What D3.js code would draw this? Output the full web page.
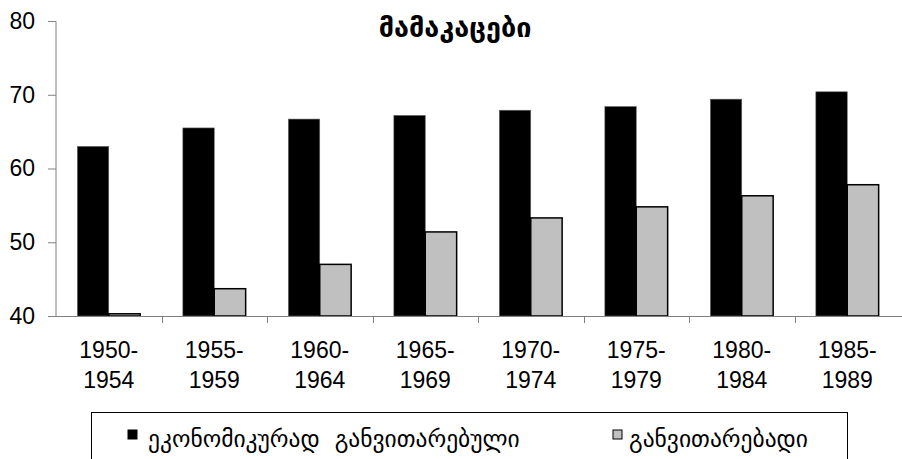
<!DOCTYPE html>
<html>
<head>
<meta charset="utf-8">
<script src="https://cdn.jsdelivr.net/npm/d3@7"></script>
<style>
  body { margin: 0; background: #fff; }
  svg { display: block; }
</style>
</head>
<body>
<div id="chart"></div>
<script>
var categories = ["1950-1954", "1955-1959", "1960-1964", "1965-1969", "1970-1974", "1975-1979", "1980-1984", "1985-1989"];
var developed = [63.0, 65.5, 66.7, 67.2, 67.9, 68.4, 69.4, 70.4];
var developing = [40.3, 43.7, 47.0, 51.4, 53.3, 54.8, 56.3, 57.8];
var seriesNames = ["ეკონომიკურად  განვითარებული", "განვითარებადი"];
var yTicks = [40, 50, 60, 70, 80];
var title = "მამაკაცები";

var width = 902, height = 459;
var georgian = "'DejaVu Sans', serif";

var svg = d3.select("#chart").append("svg")
    .attr("width", width)
    .attr("height", height);

var x0 = d3.scaleBand()
    .domain(categories)
    .range([56, 900]);

var x1 = d3.scaleBand()
    .domain([0, 1])
    .range([0, x0.bandwidth()])
    .paddingOuter(0.68);

var y = d3.scaleLinear()
    .domain([40, 80])
    .range([316, 21]);

var colors = ["#000000", "#c0c0c0"];

// title
svg.append("text")
    .attr("x", 455)
    .attr("y", 37)
    .attr("text-anchor", "middle")
    .style("font-family", georgian)
    .style("font-weight", "bold")
    .style("font-size", "27px")
    .text(title);

// bars
var rows = categories.map(function(c, i) {
  return { cat: c, values: [developed[i], developing[i]] };
});

var group = svg.selectAll("g.grp")
    .data(rows)
    .enter().append("g")
    .attr("class", "grp")
    .attr("transform", function(d) { return "translate(" + x0(d.cat) + ",0)"; });

group.selectAll("rect")
    .data(function(d) { return d.values.map(function(v, k) { return { k: k, v: v }; }); })
    .enter().append("rect")
    .attr("x", function(d) { return x1(d.k); })
    .attr("y", function(d) { return y(d.v); })
    .attr("width", x1.bandwidth())
    .attr("height", function(d) { return y(40) - y(d.v); })
    .attr("fill", function(d) { return colors[d.k]; })
    .attr("stroke", function(d) { return d.k === 0 ? "#666" : "#000"; })
    .attr("stroke-width", function(d) { return d.k === 0 ? 0.6 : 1.5; });

// y axis
var yAxis = svg.append("g")
    .attr("transform", "translate(56,0)")
    .call(d3.axisLeft(y).tickValues(yTicks).tickSize(8).tickPadding(13));
yAxis.selectAll("text")
    .style("font-family", "'Liberation Sans', Arial, sans-serif")
    .style("font-size", "23px")
    .attr("fill", "#000");
yAxis.select(".domain").attr("stroke", "#808080").attr("d", "M-8,21.5H0V316");
yAxis.selectAll(".tick line").attr("stroke", "#808080");

// x axis
var xAxis = svg.append("g")
    .attr("transform", "translate(0,316)")
    .call(d3.axisBottom(x0).tickSize(0).tickFormat(""));
xAxis.select(".domain").attr("stroke", "#808080").attr("d", "M56,0.5H902");

xAxis.selectAll(".sep")
    .data(categories.slice(1))
    .enter().append("line")
    .attr("class", "sep")
    .attr("x1", function(d) { return Math.round(x0(d)) + 0.5; })
    .attr("x2", function(d) { return Math.round(x0(d)) + 0.5; })
    .attr("y1", 0)
    .attr("y2", 7)
    .attr("stroke", "#808080");

var labels = svg.append("g")
    .style("font-family", "'Liberation Sans', Arial, sans-serif")
    .style("font-size", "23px")
    .attr("text-anchor", "middle");

labels.selectAll("text")
    .data(categories)
    .enter().append("text")
    .attr("x", function(d) { return x0(d) + x0.bandwidth() / 2; })
    .attr("y", 358)
    .each(function(d) {
      var parts = d.split("-");
      var t = d3.select(this);
      t.append("tspan").attr("x", x0(d) + x0.bandwidth() / 2).text(parts[0] + "-");
      t.append("tspan").attr("x", x0(d) + x0.bandwidth() / 2).attr("dy", 30).text(parts[1]);
    });

// legend
svg.append("rect")
    .attr("x", 91.5)
    .attr("y", 412.5)
    .attr("width", 756)
    .attr("height", 80)
    .attr("fill", "none")
    .attr("stroke", "#000");

var legendX = [128, 613];
var legend = svg.selectAll("g.leg")
    .data(seriesNames)
    .enter().append("g")
    .attr("class", "leg")
    .attr("transform", function(d, i) { return "translate(" + legendX[i] + ",430)"; });

legend.append("rect")
    .attr("width", 9)
    .attr("height", 9)
    .attr("fill", function(d, i) { return colors[i]; })
    .attr("stroke", "#000")
    .attr("stroke-width", 1);

legend.append("text")
    .attr("x", function(d, i) { return i === 0 ? 20 : 16; })
    .attr("y", 17)
    .style("font-family", georgian)
    .style("font-size", "23.5px")
    .style("white-space", "pre")
    .text(function(d) { return d; });
</script>
</body>
</html>
